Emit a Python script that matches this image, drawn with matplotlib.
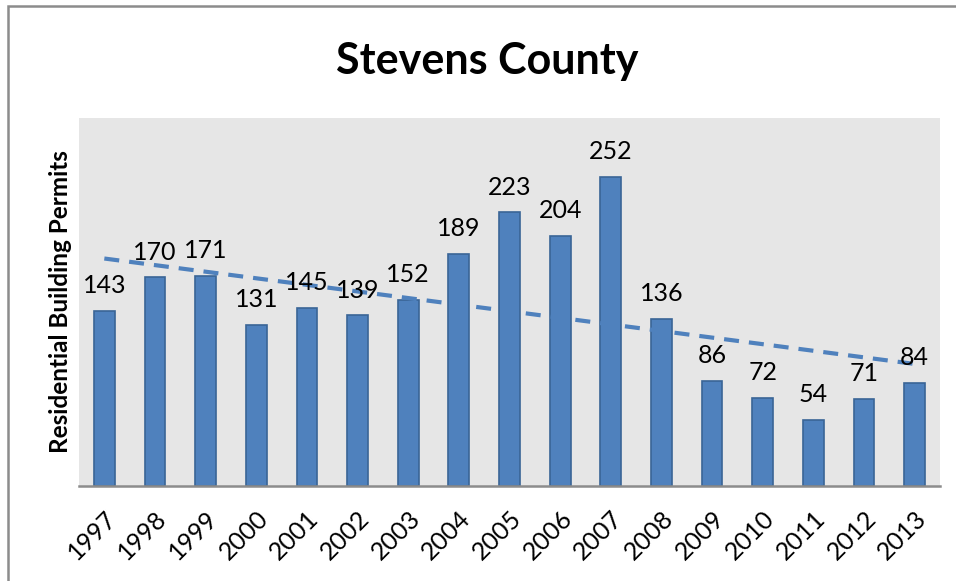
import numpy as np
import matplotlib
matplotlib.use('Agg')
import matplotlib.pyplot as plt
from matplotlib.patches import Rectangle

years = ['1997', '1998', '1999', '2000', '2001', '2002', '2003', '2004', '2005',
         '2006', '2007', '2008', '2009', '2010', '2011', '2012', '2013']
permits = [143, 170, 171, 131, 145, 139, 152, 189, 223, 204, 252, 136, 86, 72, 54, 71, 84]

plt.rcParams['font.family'] = ['Lato', 'DejaVu Sans']

fig = plt.figure(figsize=(9.56, 5.81), dpi=100)
ax = fig.add_axes([79/956, 1 - 486/581, (940 - 79)/956, (486 - 118)/581])

# outer chart frame (only top and left show in the crop)
fig.patches.append(Rectangle((8/956, -0.1), 1.2, 1 - 6/581 + 0.1, transform=fig.transFigure,
                             fill=False, edgecolor='#8c8c8c', linewidth=1.8))

x = np.arange(len(years))
ax.bar(x, permits, width=0.41, color='#4f81bd', edgecolor='#3a6596', linewidth=1.2, zorder=2)

z = np.polyfit(x, permits, 1)
p = np.poly1d(z)
ax.plot(x, p(x), linestyle=(0, (3.6, 2.4)), color='#4f81bd', linewidth=3, zorder=3)

for xi, v in zip(x, permits):
    ax.annotate(str(v), (xi, v), xytext=(0, 10), textcoords='offset points',
                ha='center', va='bottom', fontsize=18, zorder=4)

ax.set_facecolor('#e6e6e6')
ax.set_xlim(-0.5, len(years) - 0.5)
ax.set_ylim(0, 300)
ax.set_yticks([])
ax.set_xticks(x)
ax.set_xticklabels(years, rotation=45, ha='right', rotation_mode='anchor', fontsize=18)
ax.tick_params(axis='x', length=0, pad=15)
for s in ['top', 'right', 'left']:
    ax.spines[s].set_visible(False)
ax.spines['bottom'].set_color('#8c8c8c')
ax.spines['bottom'].set_linewidth(1.8)

ax.set_ylabel('Residential Building Permits', fontsize=17.5, fontweight='bold', labelpad=5)
fig.text(487/956, 1 - 61/581, 'Stevens County', ha='center', va='center',
         fontsize=31, fontweight='bold')

fig.savefig('out.png', dpi=100)
